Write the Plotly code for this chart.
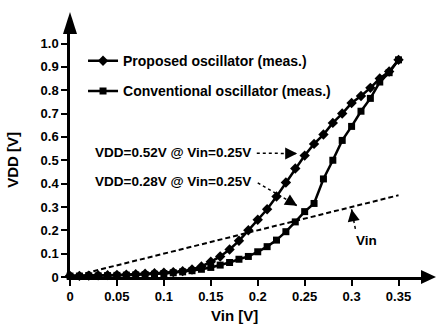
import plotly.graph_objects as go

vin = [round(0.01 * i, 2) for i in range(36)]
proposed = [0.005, 0.005, 0.006, 0.007, 0.008, 0.009, 0.010, 0.012, 0.014, 0.016,
            0.018, 0.021, 0.025, 0.032, 0.045, 0.065, 0.088, 0.118, 0.155, 0.200,
            0.245, 0.290, 0.345, 0.405, 0.465, 0.520, 0.570, 0.610, 0.660, 0.700,
            0.745, 0.775, 0.810, 0.850, 0.880, 0.930]
conventional = [0.004, 0.004, 0.005, 0.005, 0.006, 0.007, 0.008, 0.009, 0.010, 0.012,
                0.015, 0.018, 0.022, 0.027, 0.033, 0.041, 0.051, 0.062, 0.076, 0.088,
                0.108, 0.130, 0.158, 0.194, 0.236, 0.280, 0.315, 0.420, 0.500, 0.585,
                0.645, 0.710, 0.765, 0.835, 0.875, 0.930]
vin_line_x = [0.0, 0.35]
vin_line_y = [0.0, 0.35]

x_ticks = [0, 0.05, 0.1, 0.15, 0.2, 0.25, 0.3, 0.35]
x_ticktext = ["0", "0.05", "0.1", "0.15", "0.2", "0.25", "0.3", "0.35"]
y_ticks = [0, 0.1, 0.2, 0.3, 0.4, 0.5, 0.6, 0.7, 0.8, 0.9, 1.0]
y_ticktext = ["0", "0.1", "0.2", "0.3", "0.4", "0.5", "0.6", "0.7", "0.8", "0.9", "1.0"]

X_MAX = 0.375
Y_MAX = 1.045

FONT = "Liberation Sans"
fig = go.Figure()

# Vin reference line
fig.add_trace(go.Scatter(x=vin_line_x, y=vin_line_y, mode="lines",
                         line=dict(color="black", width=2, dash="5px,3px"),
                         showlegend=False, hoverinfo="skip", cliponaxis=False))

fig.add_trace(go.Scatter(x=vin, y=proposed, mode="lines+markers",
                         name="Proposed oscillator (meas.)", legendgroup="a",
                         line=dict(color="black", width=2.5),
                         marker=dict(symbol="diamond", size=8, color="black"),
                         cliponaxis=False))
fig.add_trace(go.Scatter(x=vin, y=conventional, mode="lines+markers",
                         name="Conventional oscillator (meas.)", legendgroup="b",
                         line=dict(color="black", width=2.5),
                         marker=dict(symbol="square", size=7, color="black"),
                         cliponaxis=False))

# dotted pointer lines (tail -> tip) and head direction offsets in pixels
pointers = [
    ([0.199, 0.242], [0.530, 0.529], (-8, 0)),
    ([0.200, 0.242], [0.403, 0.305], (-6.9, -4.1)),
    ([0.304, 0.300], [0.206, 0.290], (1.4, 7.9)),
]
annotations = []
for px_, py_, (hx, hy) in pointers:
    fig.add_trace(go.Scatter(x=px_, y=py_, mode="lines",
                             line=dict(color="black", width=1.5, dash="dot"),
                             showlegend=False, hoverinfo="skip", cliponaxis=False))
    annotations.append(dict(x=px_[1], y=py_[1], xref="x", yref="y", text="",
                            showarrow=True, ax=hx, ay=hy, arrowhead=2,
                            arrowsize=1.6, arrowwidth=1.5, arrowcolor="black"))

# axis arrowheads (pixel-sized shapes anchored at axis ends, paper refs so not clipped)
shapes = [
    dict(type="path", xref="paper", yref="paper", xsizemode="pixel", ysizemode="pixel",
         xanchor=1, yanchor=0, path="M -1,7 L 14,0 L -1,-7 Z",
         fillcolor="black", line=dict(width=0), layer="above"),
    dict(type="path", xref="paper", yref="paper", xsizemode="pixel", ysizemode="pixel",
         xanchor=0, yanchor=1, path="M -7,-1 L 0,21 L 7,-1 Z",
         fillcolor="black", line=dict(width=0), layer="above"),
]

ann_font = dict(family=FONT, size=13.5, color="black", weight="bold")
annotations += [
    dict(x=0.0245, y=0.535, xref="x", yref="y", text="VDD=0.52V @ Vin=0.25V",
         showarrow=False, xanchor="left", yanchor="middle", font=ann_font),
    dict(x=0.0245, y=0.411, xref="x", yref="y", text="VDD=0.28V @ Vin=0.25V",
         showarrow=False, xanchor="left", yanchor="middle", font=ann_font),
    dict(x=0.316, y=0.158, xref="x", yref="y", text="Vin",
         showarrow=False, xanchor="center", yanchor="middle", font=ann_font),
    dict(x=-0.162, y=0.48, xref="paper", yref="paper", text="VDD [V]", textangle=-90,
         showarrow=False, xanchor="center", yanchor="middle",
         font=dict(family=FONT, size=15, color="black", weight="bold")),
    dict(x=0.466, y=-0.156, xref="paper", yref="paper", text="Vin [V]",
         showarrow=False, xanchor="center", yanchor="middle",
         font=dict(family=FONT, size=15, color="black", weight="bold")),
]

axis_common = dict(showgrid=False, zeroline=False, showline=True, linecolor="black",
                   linewidth=2.5, ticks="outside", ticklen=6, tickwidth=2,
                   tickcolor="black",
                   tickfont=dict(family=FONT, size=13, color="black", weight="bold"))

fig.update_layout(
    width=436, height=324,
    margin=dict(l=70, r=14, t=33, b=47),
    paper_bgcolor="white", plot_bgcolor="white",
    xaxis=dict(range=[0, X_MAX], tickvals=x_ticks, ticktext=x_ticktext, **axis_common),
    yaxis=dict(range=[0, Y_MAX], tickvals=y_ticks, ticktext=y_ticktext, **axis_common),
    legend=dict(x=0.037, y=0.95, xanchor="left", yanchor="top",
                bgcolor="rgba(0,0,0,0)", tracegroupgap=9,
                font=dict(family=FONT, size=14, color="black", weight="bold")),
    annotations=annotations,
    shapes=shapes,
    showlegend=True,
)

fig.write_html("out.html")
